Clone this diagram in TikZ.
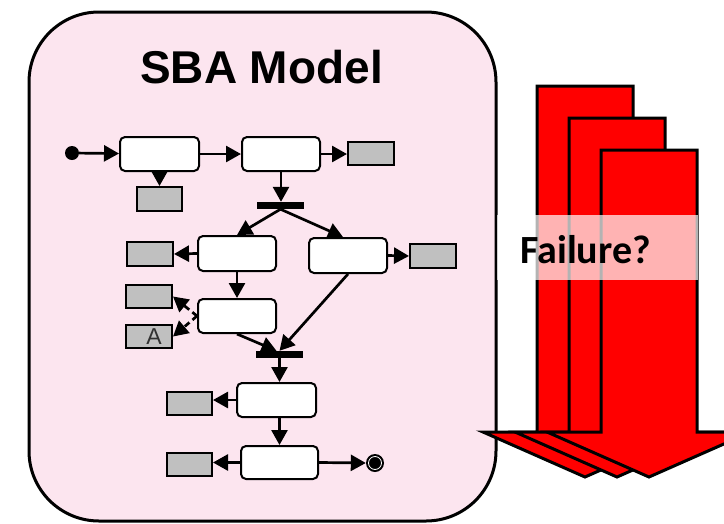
\documentclass[tikz,border=0pt]{standalone}
\usepackage{fontspec}
\setmainfont{Liberation Sans}
\newfontfamily\carl{Carlito}
\usetikzlibrary{arrows.meta,calc}
\definecolor{pinkbg}{RGB}{252,229,239}
\definecolor{grayfill}{RGB}{192,192,192}
\definecolor{redarrow}{RGB}{255,0,0}
\definecolor{agray}{RGB}{50,50,50}
\begin{document}
\begin{tikzpicture}[x=1pt,y=-1pt,
  act/.style={draw, line width=2pt, fill=white, rounded corners=5pt, minimum width=78pt, minimum height=34pt, inner sep=0pt},
  obj/.style={draw, line width=2pt, fill=grayfill, minimum width=45pt, minimum height=23pt, inner sep=0pt},
  syncbar/.style={fill=black, minimum width=47pt, minimum height=7pt, inner sep=0pt},
  flow/.style={line width=2.7pt, -{Triangle[length=15pt,width=16pt]}},
  dflow/.style={flow, dash pattern=on 6pt off 4pt},
  bigarrow/.style={draw=black, fill=redarrow, line width=3pt, line join=miter}]
\useasboundingbox (0,0) rectangle (724,523);
\clip (0,0) rectangle (724,523);
% main container
\draw[line width=3pt, fill=pinkbg, rounded corners=70pt] (29,12) rectangle (496,521);
\node[font=\bfseries\fontsize{46}{50}\selectfont, anchor=base] (title) at (261.5,83) {SBA Model};
% red arrows
\foreach \cx/\ty in {585/86, 617/118, 649/150}{
  \draw[bigarrow] (\cx-48,\ty) -- (\cx+48,\ty) -- (\cx+48,432) -- (\cx+102,432) -- (\cx,477) -- (\cx-102,432) -- (\cx-48,432) -- cycle;
}
\fill[white, opacity=0.7] (497,215) rectangle (698,280);
\node[font=\carl\bfseries\fontsize{40}{44}\selectfont, anchor=base] (fail) at (585.5,263) {Failure?};
% activity nodes
\node[circle, fill=black, minimum size=14pt, inner sep=0pt] (init) at (72,153) {};
\node[act, minimum width=79pt] (a1) at (159.5,154) {};
\node[act] (a2) at (281,154) {};
\node[obj, minimum width=46pt] (o1) at (371,153.5) {};
\node[obj, minimum height=24pt] (o2) at (159.5,199) {};
\node[syncbar] (fork) at (280.5,205.5) {};
\node[act, minimum height=35pt] (b1) at (237,253.5) {};
\node[act, minimum height=35pt] (b2) at (348,255.5) {};
\node[obj, minimum width=46pt, minimum height=24pt] (o3) at (150,254) {};
\node[obj, minimum width=46pt, minimum height=24pt] (o4) at (433,256) {};
\node[act] (c) at (237,316) {};
\node[obj, minimum width=46pt] (o5) at (149,296.5) {};
\node[obj, minimum width=46pt, text=agray, font=\fontsize{23}{24}\selectfont] (o6) at (149,336.5) {\hspace{10pt}A};
\node[syncbar] (join) at (279.5,354.5) {};
\node[act, minimum width=79pt] (d) at (276.5,400) {};
\node[obj] (o7) at (189.5,403.5) {};
\node[act, minimum width=77pt, minimum height=33pt] (e) at (279.5,462.5) {};
\node[obj] (o8) at (189.5,464.5) {};
\node[circle, fill=black, minimum size=18pt, inner sep=0pt] (final) at (375,463) {};
\draw[white, line width=0.8pt] (final.center) circle (6.5pt);
% connectors
\draw[flow] (init) -- (a1);
\draw[flow] (a1) -- (a2);
\draw[flow] (a2.east) -- (a2.east -| o1.west);
\draw[flow] (a1.south) -- (o2.north);
\draw[flow] (a2.south) -- (a2.south |- fork.north);
\draw[flow] (fork.south) -- (b1.north);
\draw[flow] (fork.south) -- ([xshift=-5pt]b2.north);
\draw[flow] (b1.west) -- (o3.east);
\draw[flow] (b2.east) -- (o4.west);
\draw[flow] (b1.south) -- (c.north);
\draw[dflow] (c.west) -- (o5.east);
\draw[dflow] (c.west) -- (o6.east);
\draw[flow] (c.south) -- ([xshift=-3pt]join.north);
\draw[flow] (b2.south) -- (join.north);
\draw[flow] (join.south) -- (join.south |- d.north);
\draw[flow] (d.west) -- (d.west -| o7.east);
\draw[flow] (e.north |- d.south) -- (e.north);
\draw[flow] (e.west) -- (e.west -| o8.east);
\draw[flow] (e.east) -- (final.west);
\end{tikzpicture}
\end{document}
